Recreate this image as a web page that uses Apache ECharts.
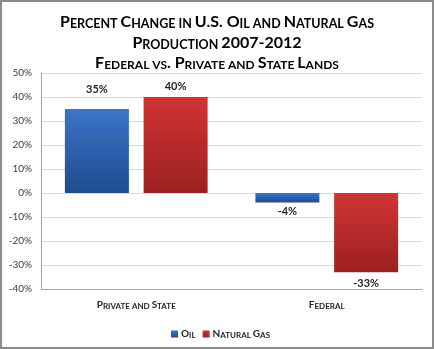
<!DOCTYPE html>
<html>
<head>
<meta charset="utf-8">
<script src="https://cdn.jsdelivr.net/npm/echarts@6/dist/echarts.min.js"></script>
<style>
html,body{margin:0;padding:0;background:#fff;}
#frame{position:absolute;left:0;top:0;width:430px;height:345px;border:2px solid #8c8c8c;}
#chart{position:absolute;left:0;top:0;width:434px;height:349px;}
</style>
</head>
<body>
<div id="frame"></div>
<div id="chart"></div>
<script>
const titleLines = ['Percent Change in U.S. Oil and Natural Gas', 'Production 2007-2012', 'Federal vs. Private and State Lands'];
const categories = ['Private and State', 'Federal'];
const seriesNames = ['Oil', 'Natural Gas'];
const oilValues = [35, -4];
const gasValues = [40, -33];
const yTicks = [-40, -30, -20, -10, 0, 10, 20, 30, 40, 50];

const FONT = 'Lato';

// Small-caps helper: lowercase letters rendered as smaller uppercase
function smallCaps(str) {
  let out = '';
  let cur = null, buf = '';
  for (const ch of str) {
    let st, c = ch;
    if (ch >= 'a' && ch <= 'z') { st = 's'; c = ch.toUpperCase(); }
    else if (ch === ' ') { st = cur || 'b'; }
    else st = 'b';
    if (st !== cur) {
      if (buf) out += '{' + cur + '|' + buf + '}';
      cur = st; buf = '';
    }
    buf += c;
  }
  if (buf) out += '{' + cur + '|' + buf + '}';
  return out;
}
function rich(big, small, color) {
  return {
    b: {fontFamily: FONT, fontWeight: 'bold', fontSize: big, color: color, verticalAlign: 'bottom'},
    s: {fontFamily: FONT, fontWeight: 'bold', fontSize: small, color: color, verticalAlign: 'bottom'}
  };
}

const blueGrad = new echarts.graphic.LinearGradient(0, 0, 0, 1, [
  {offset: 0, color: '#3b74c9'}, {offset: 1, color: '#1e4c8e'}]);
const redGrad = new echarts.graphic.LinearGradient(0, 0, 0, 1, [
  {offset: 0, color: '#d13434'}, {offset: 1, color: '#9c2020'}]);

const titleTops = [14, 35, 55];
const titleSizes = [[16, 12.5], [16, 12.5], [16, 12]];

function labelFor(v, dist) {
  return {
    value: v,
    label: {
      show: true,
      position: v >= 0 ? 'top' : 'bottom',
      distance: dist,
      formatter: v + '%',
      fontFamily: FONT, fontWeight: 'bold', fontSize: 11, color: '#262626'
    }
  };
}

const chart = echarts.init(document.getElementById('chart'));
chart.setOption({
  animation: false,
  backgroundColor: 'transparent',
  title: titleLines.map((t, i) => ({
    text: smallCaps(t),
    left: 'center',
    top: titleTops[i],
    padding: 0,
    textStyle: {rich: rich(titleSizes[i][0], titleSizes[i][1], '#000')}
  })),
  legend: {
    data: seriesNames,
    bottom: 5,
    left: 166,
    itemWidth: 7,
    itemHeight: 7,
    itemGap: 7,
    icon: 'rect',
    formatter: n => smallCaps(n),
    textStyle: {padding: [0, 0, 0, -2], rich: rich(10, 8, '#262626')}
  },
  grid: {left: 41, right: 12, top: 73, bottom: 60},
  xAxis: {
    type: 'category',
    data: categories,
    position: 'bottom',
    axisLine: {onZero: false, lineStyle: {color: '#a6a6a6', width: 1}},
    axisTick: {show: false},
    axisLabel: {
      interval: 0,
      margin: 11,
      formatter: v => smallCaps(v),
      rich: rich(10, 8, '#262626')
    }
  },
  yAxis: {
    type: 'value',
    min: yTicks[0],
    max: yTicks[yTicks.length - 1],
    interval: 10,
    axisLine: {show: true, lineStyle: {color: '#a6a6a6'}},
    axisTick: {show: false},
    splitLine: {lineStyle: {color: '#d9d9d9'}},
    axisLabel: {
      formatter: v => v + '%',
      margin: 9,
      fontFamily: FONT, fontSize: 10, color: '#404040'
    }
  },
  series: [
    {
      name: seriesNames[0], type: 'bar',
      barWidth: 64, barGap: '23%',
      itemStyle: {color: blueGrad},
      data: oilValues.map((v, i) => labelFor(v, i === 0 ? 14 : 3))
    },
    {
      name: seriesNames[1], type: 'bar',
      barWidth: 64, barGap: '23%',
      itemStyle: {color: redGrad},
      data: gasValues.map((v, i) => labelFor(v, i === 0 ? 5 : 6))
    }
  ]
});
</script>
</body>
</html>
